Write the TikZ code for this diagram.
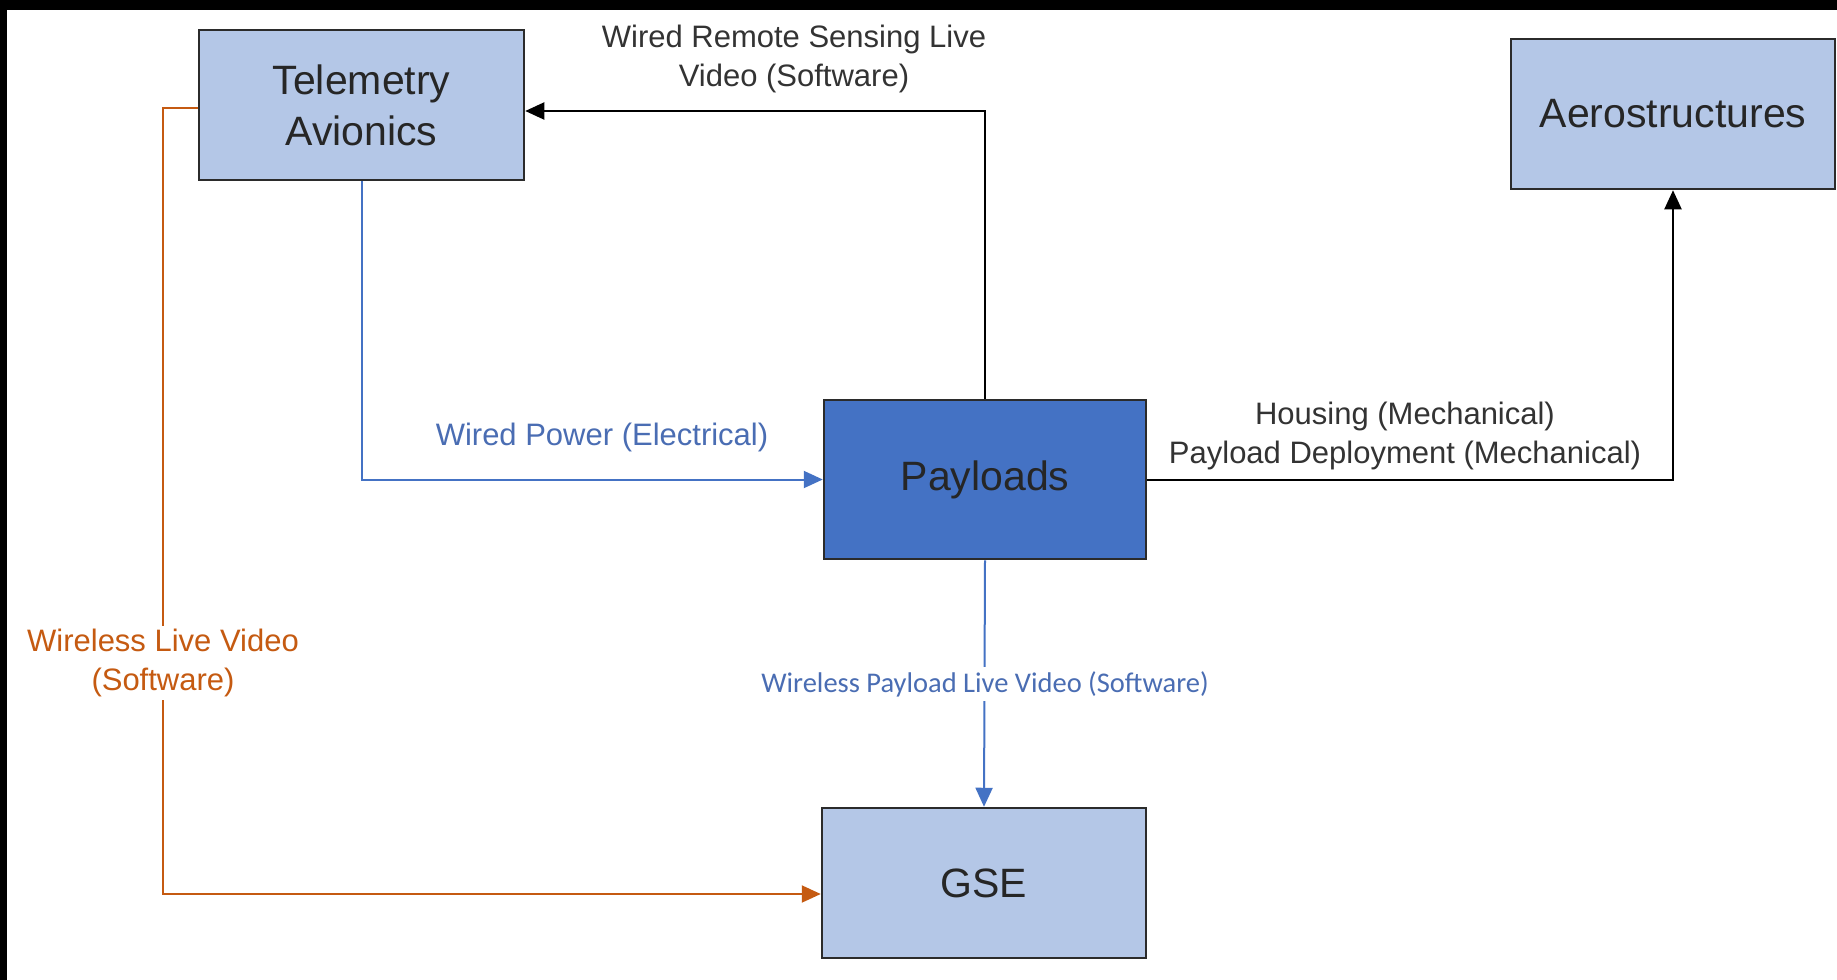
\documentclass[tikz,border=0pt]{standalone}
\usepackage{fontspec}
\setmainfont{Liberation Sans}
\newfontfamily\calfont{Carlito}
\usetikzlibrary{arrows.meta,calc}
\definecolor{boxfill}{HTML}{B4C7E7}
\definecolor{payfill}{HTML}{4472C4}
\definecolor{blueline}{HTML}{4472C4}
\definecolor{bluetext}{HTML}{4A6DB3}
\definecolor{orangeline}{HTML}{C55A11}
\definecolor{edgegrey}{HTML}{2B2B2B}
\definecolor{labelgrey}{HTML}{333333}
\tikzset{
  block/.style={draw=edgegrey, line width=2.5pt, fill=boxfill, align=center,
    font=\fontsize{41}{51}\selectfont, text=black!85, inner sep=0pt},
  lbl/.style={align=center, font=\fontsize{31}{39}\selectfont, inner sep=2pt},
  conn/.style={line width=2pt, -{Triangle[length=19pt,width=17pt]}},
}
\begin{document}
\begin{tikzpicture}[x=1pt,y=-1pt]
\useasboundingbox (0,0) rectangle (1837,980);
\fill[black] (0,0) rectangle (1837,980);
\fill[white] (7,10) rectangle (1837,980);

\node[block, minimum width=325pt, minimum height=150pt] (tel) at (361.5,105) {Telemetry\\Avionics};
\node[block, minimum width=324pt, minimum height=150pt] (aero) at (1673,114) {Aerostructures};
\node[block, fill=payfill, minimum width=322pt, minimum height=159pt] (pay) at (985,479.5) {Payloads};
\node[block, minimum width=324pt, minimum height=150pt] (gse) at (984,883) {GSE};

\coordinate (telin) at ($(tel.east)+(0,6)$);
\coordinate (telout) at ($(tel.west)+(0,3)$);
\coordinate (gsein) at ($(gse.west)+(0,11)$);

% Wired remote sensing (black)
\draw[conn, draw=black] (pay.north) |- (telin);
\node[lbl, text=labelgrey] (lremote) at (794,59) {Wired Remote Sensing Live\\Video (Software)};

% Wired power (blue)
\draw[conn, draw=blueline] (tel.south) |- (pay.west);
\node[lbl, text=bluetext] (lpower) at (602,437) {Wired Power (Electrical)};

% Housing (black)
\draw[conn, draw=black] (pay.east) -| (aero.south);
\node[lbl, text=labelgrey] (lhousing) at (1405,436) {Housing (Mechanical)\\Payload Deployment (Mechanical)};

% Orange wireless live video
\draw[conn, draw=orangeline] (telout) -- ++(-35,0) |- (gsein);
\node[lbl, text=orangeline, fill=white, inner sep=3pt] (lwireless) at (163,663) {Wireless Live Video\\(Software)};

% Blue wireless payload video
\draw[conn, draw=blueline] (pay.south) -- (gse.north);
\node[lbl, text=bluetext, fill=white, font=\calfont\fontsize{28.5}{34}\selectfont, inner sep=4pt] (lpayvid) at (985,684) {Wireless Payload Live Video (Software)};
\end{tikzpicture}
\end{document}
